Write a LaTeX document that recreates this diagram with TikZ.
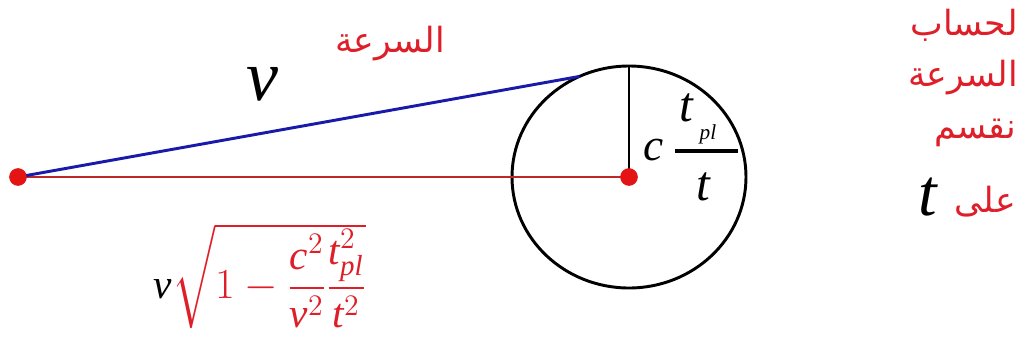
\documentclass[tikz,border=0pt]{standalone}
\usepackage{amsmath}
\usepackage{graphicx}
\usepackage{fontspec}
\setmainfont{Liberation Serif}
\newfontfamily\arabicfont[Script=Arabic]{DejaVu Sans}
\TeXXeTstate=1
\usetikzlibrary{calc}
\definecolor{txtred}{RGB}{222,30,40}
\definecolor{linered}{RGB}{190,40,40}
\definecolor{lineblue}{RGB}{25,25,170}
\definecolor{dotred}{RGB}{228,20,20}
\tikzset{
  dot/.style={circle,fill=dotred,inner sep=0pt,minimum size=13pt},
  artxt/.style={text=txtred,inner sep=0pt,font=\arabicfont\fontsize{26}{30}\selectfont},
  bigit/.style={inner sep=0pt}
}
\begin{document}
\begin{tikzpicture}[x=0.75pt,y=-0.75pt]
\useasboundingbox (0,0) rectangle (1021,343);
% dots
\node[dot] (L) at (18,177) {};
\node[dot] (C) at (629,177) {};
% circle
\draw[line width=2.2pt] (629,177) ellipse [x radius=117, y radius=111];
\coordinate (T) at ($(629,177)+(-115:117 and 111)$);
\coordinate (top) at (629,66);
% lines
\draw[linered,line width=2.2pt] (L.center) -- (C.center);
\draw[lineblue,line width=2.2pt] (L.center) -- (T);
\draw[line width=2pt] (C.center) -- (top);
\node[dot] at (18,177) {};
\node[dot] at (629,177) {};
% labels
\node[artxt] (s1) at (390,44) {\beginR السرعة\endR};
\node[bigit] (v) at (262,84) {\fontsize{54}{60}\selectfont\itshape v};
\node[bigit] (c) at (654,150) {\fontsize{34}{40}\selectfont\itshape c};
\node[bigit] (tn) at (686,108) {\fontsize{37}{44}\selectfont\itshape t};
\node[bigit] (pl) at (708,134) {\fontsize{16}{20}\selectfont\itshape pl};
\node[bigit] (td) at (703,187) {\fontsize{37}{44}\selectfont\itshape t};
\coordinate (b1) at (675,151);
\coordinate (b2) at (738,151);
\draw[line width=3pt] (b1) -- (b2);
% bottom formula
\node[bigit] (f) at (260,276) {\scalebox{1.55}{\fontsize{20}{24}\selectfont $\textit{v}\color{txtred}\sqrt{1-\dfrac{\textit{c}^2}{\textit{v}^2}\dfrac{\textit{t}^2_{\textit{pl}}}{\textit{t}^2}}$}};
% right text
\node[artxt,anchor=east] (r1) at (1018,25) {\beginR لحساب\endR};
\node[artxt,anchor=east] (r2) at (1018,78) {\beginR السرعة\endR};
\node[artxt,anchor=east] (r3) at (1016,133) {\beginR نقسم\endR};
\node[artxt,anchor=east] (r4) at (1016,202) {\beginR على\endR};
\node[bigit] (t) at (928,197) {\fontsize{50}{56}\selectfont\itshape t};
\end{tikzpicture}
\end{document}
